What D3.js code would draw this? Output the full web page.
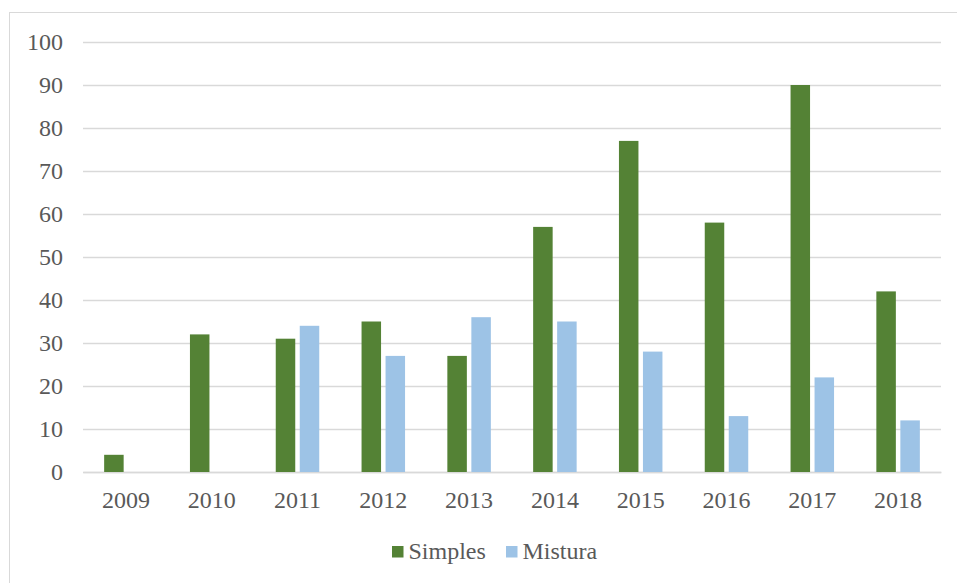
<!DOCTYPE html>
<html><head><meta charset="utf-8">
<script src="https://cdn.jsdelivr.net/npm/d3@7"></script>
<style>body{margin:0;background:#fff}svg{display:block}
svg text{font-family:"Liberation Serif","Times New Roman","DejaVu Serif",serif !important;}</style>
</head><body>
<svg id="c" width="957" height="583"></svg>
<script>
const categories = ["2009","2010","2011","2012","2013","2014","2015","2016","2017","2018"];
const simples = [4,32,31,35,27,57,77,58,90,42];
const mistura = [0,0,34,27,36,35,28,13,22,12];
const seriesNames = ["Simples","Mistura"];
const colors = ["#548235","#9DC3E6"];
const yTicks = [0,10,20,30,40,50,60,70,80,90,100];

const svg = d3.select("#c");
const m = {left:83, right:941, top:42, bottom:472};
const fs = 24;

svg.append("rect").attr("x",9.5).attr("y",12.5).attr("width",960).attr("height",600)
  .attr("fill","none").attr("stroke","#D9D9D9").attr("stroke-width",1);

const x = d3.scaleBand().domain(categories).range([m.left,m.right]).padding(0);
const y = d3.scaleLinear().domain([0,100]).range([m.bottom,m.top]);

const yAxis = d3.axisLeft(y).tickValues(yTicks).tickSize(-(m.right-m.left)).tickPadding(20);
const gy = svg.append("g").attr("transform",`translate(${m.left},0)`).call(yAxis);
gy.select(".domain").remove();
gy.selectAll(".tick line").attr("stroke","#D9D9D9").attr("stroke-width",1.3);
gy.selectAll(".tick text").attr("fill","#595959").attr("font-size",fs).attr("dy","0.33em");

const xAxis = d3.axisBottom(x).tickSize(0).tickPadding(19);
const gx = svg.append("g").attr("transform",`translate(0,${m.bottom})`).call(xAxis);
gx.select(".domain").attr("stroke","#D9D9D9").attr("stroke-width",1.3);
gx.selectAll(".tick text").attr("fill","#595959").attr("font-size",fs);

const barW = 19.5, gap = 4.5;
const data = categories.map((c,i)=>({c, vals:[simples[i],mistura[i]]}));
const groups = svg.append("g").selectAll("g").data(data).join("g")
  .attr("transform",d=>`translate(${x(d.c)+x.bandwidth()/2-(barW+gap/2)},0)`);
groups.selectAll("rect").data(d=>d.vals.map((v,j)=>({v,j}))).join("rect")
  .attr("x",d=>d.j*(barW+gap))
  .attr("width",barW)
  .attr("y",d=>y(d.v))
  .attr("height",d=>y(0)-y(d.v))
  .attr("fill",d=>colors[d.j]);

const leg = svg.append("g");
const legX = [392,506];
seriesNames.forEach((n,i)=>{
  leg.append("rect").attr("x",legX[i]).attr("y",546).attr("width",11.5).attr("height",11.5).attr("fill",colors[i]);
  leg.append("text").attr("x",legX[i]+16.5).attr("y",559.3).text(n)
    .attr("fill","#595959").attr("font-size",fs);
});
</script>
</body></html>
